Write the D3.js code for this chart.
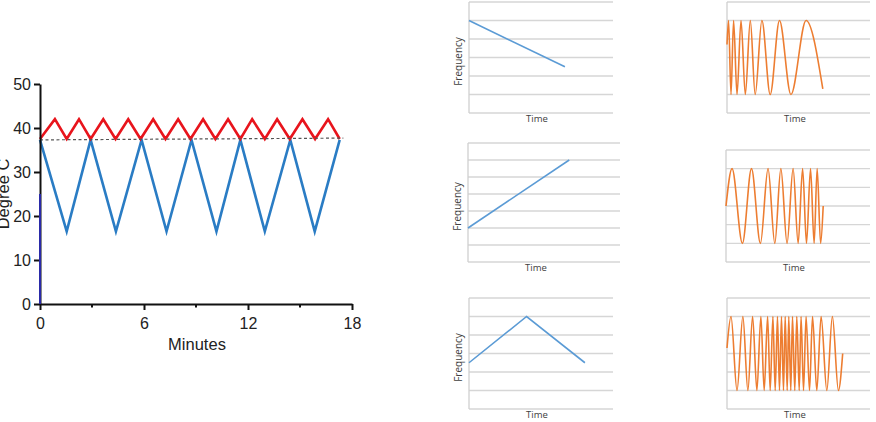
<!DOCTYPE html>
<html>
<head>
<meta charset="utf-8">
<script src="https://cdn.jsdelivr.net/npm/d3@7"></script>
<style>
  body { margin: 0; background: #fff; }
  svg { display: block; }
</style>
</head>
<body>
<div id="svganchor"></div>
<script>
let width = 876;
let height = 422;

// ---- left chart data (minutes, degree C) ----
let xTicks = [0, 6, 12, 18];
let xMinorTicks = [3, 9, 15];
let yTicks = [0, 10, 20, 30, 40, 50];

let redTimes = [0, 0.86, 1.54, 2.25, 2.92, 3.65, 4.36, 5.09, 5.80, 6.53, 7.24, 7.97, 8.68,
                9.41, 10.12, 10.85, 11.56, 12.24, 12.97, 13.68, 14.41, 15.14, 15.87, 16.62, 17.29];
let redTemps = [37.5, 42, 37.5, 42, 37.5, 42, 37.5, 42, 37.5, 42, 37.5, 42, 37.5,
                42, 37.5, 42, 37.5, 42, 37.5, 42, 37.5, 42, 37.5, 42, 37.5];

let blueTimes = [0, 1.54, 2.92, 4.38, 5.86, 7.30, 8.74, 10.18, 11.56, 12.97, 14.44, 15.85, 17.29];
let blueTemps = [37.3, 16.5, 37.3, 16.5, 37.3, 16.5, 37.3, 16.5, 37.3, 16.5, 37.3, 16.5, 37.3];

let baseTimes = [0, 17.5];
let baseTemps = [37.3, 37.7];

// ---- small panels data (time 0-100, frequency in gridline units) ----
// linear sweeps
let sweepDownT = [0, 66.6];
let sweepDownF = [5, 2.5];
let sweepUpT = [0, 66.6];
let sweepUpF = [2, 6];
let sweepTriT = [0, 40, 80.5];
let sweepTriF = [2.5, 5, 2.5];

// chirp waves: start, alternating extremes, end
let chirpDownT = [0, 1.1, 2.8, 4.6, 7.0, 9.8, 12.8, 16.3, 19.7, 24.4, 30.2, 36.7, 44.7, 55.3, 67.0];
let chirpDownV = [3.7, 5, 1, 5, 1, 5, 1, 5, 1, 5, 1, 5, 1, 5, 1.3];

let chirpUpT = [0, 4.2, 11.4, 17.7, 23.9, 29.2, 33.9, 38.1, 42.4, 46.6, 50.1, 53.2, 55.9, 58.7, 61.2, 63.3, 65.7, 67.5];
let chirpUpV = [3, 5, 1, 5, 1, 5, 1, 5, 1, 5, 1, 5, 1, 5, 1, 5, 1, 3];

let chirpTriT = [0, 2.8, 7.0, 11.1, 14.6, 17.9, 20.9, 23.7, 26.0, 28.4, 30.2, 32.1, 33.7, 35.3, 36.7,
                 38.1, 39.5, 40.7, 42.1, 43.2, 44.6, 45.8, 47.4, 48.8, 50.5, 51.8, 53.5, 55.3, 57.7,
                 59.8, 62.8, 65.8, 69.8, 73.7, 77.9, 80.9];
let chirpTriV = [3.3, 5, 1, 5, 1, 5, 1, 5, 1, 5, 1, 5, 1, 5, 1,
                 5, 1, 5, 1, 5, 1, 5, 1, 5, 1, 5, 1, 5, 1,
                 5, 1, 5, 1, 5, 1, 3];

function zip(ts, vs) {
    return ts.map(function (t, i) { return {t: t, v: vs[i]}; });
}

let svg = d3.select("#svganchor")
    .append("svg")
    .attr("width", width)
    .attr("height", height)
    .style("background", "#fff");

// ================= left chart =================
let xScale = d3.scaleLinear().domain([0, 18]).range([40, 352]);
let yScale = d3.scaleLinear().domain([0, 50]).range([304, 84]);

let line = d3.line()
    .x(function (d) { return xScale(d.t); })
    .y(function (d) { return yScale(d.v); });

svg.append("path")
    .datum(zip(blueTimes, blueTemps))
    .attr("fill", "none")
    .attr("stroke", "#2a7cc4")
    .attr("stroke-width", 2.6)
    .attr("stroke-linejoin", "miter")
    .attr("d", line);

svg.append("path")
    .datum(zip(redTimes, redTemps))
    .attr("fill", "none")
    .attr("stroke", "#e8141c")
    .attr("stroke-width", 2.6)
    .attr("d", line);

svg.append("path")
    .datum(zip(baseTimes, baseTemps))
    .attr("fill", "none")
    .attr("stroke", "#555")
    .attr("stroke-width", 1.2)
    .attr("stroke-dasharray", "3,2.5")
    .attr("d", line);

let xAxis = d3.axisBottom(xScale)
    .tickValues(xTicks)
    .tickFormat(d3.format("d"))
    .tickSize(6)
    .tickPadding(8)
    .tickSizeOuter(0);

let gx = svg.append("g")
    .attr("transform", "translate(0,304)")
    .call(xAxis);

// minor ticks
gx.selectAll(".minor")
    .data(xMinorTicks)
    .enter()
    .append("line")
    .attr("class", "minor")
    .attr("x1", function (d) { return xScale(d); })
    .attr("x2", function (d) { return xScale(d); })
    .attr("y1", 0)
    .attr("y2", 3.5)
    .attr("stroke", "#111")
    .attr("stroke-width", 2);

let yAxis = d3.axisLeft(yScale)
    .tickValues(yTicks)
    .tickSize(6)
    .tickPadding(3)
    .tickSizeOuter(0);

let gy = svg.append("g")
    .attr("transform", "translate(40,0)")
    .call(yAxis);

// coloured lower part of the y axis
svg.append("line")
    .attr("x1", 40).attr("x2", 40)
    .attr("y1", yScale(0)).attr("y2", yScale(25))
    .attr("stroke", "#2a2aa8")
    .attr("stroke-width", 2);

[gx, gy].forEach(function (g) {
    g.select(".domain").attr("stroke", "#111").attr("stroke-width", 2);
    g.selectAll(".tick line").attr("stroke", "#111").attr("stroke-width", 2);
    g.selectAll(".tick text")
        .attr("fill", "#222")
        .style("font-family", "'Liberation Sans', Arial, sans-serif")
        .style("font-size", "16px");
});

svg.append("text")
    .attr("x", 197)
    .attr("y", 350)
    .attr("text-anchor", "middle")
    .attr("fill", "#222")
    .style("font-family", "'Liberation Sans', Arial, sans-serif")
    .style("font-size", "16.5px")
    .text("Minutes");

svg.append("text")
    .attr("transform", "translate(9,194) rotate(-90)")
    .attr("text-anchor", "middle")
    .attr("fill", "#222")
    .style("font-family", "'Liberation Sans', Arial, sans-serif")
    .style("font-size", "16.5px")
    .text("Degree C");

// ================= small panels =================
let panels = [
    {left: 469, right: 613, top: 2, bottom: 113, n: 6, data: zip(sweepDownT, sweepDownF), color: "#5b9bd5", curve: d3.curveLinear, freq: true},
    {left: 727, right: 870, top: 2, bottom: 113, n: 6, data: zip(chirpDownT, chirpDownV), color: "#ed7d31", curve: d3.curveMonotoneX, freq: false},
    {left: 468, right: 620, top: 143, bottom: 262, n: 7, data: zip(sweepUpT, sweepUpF), color: "#5b9bd5", curve: d3.curveLinear, freq: true},
    {left: 726, right: 870, top: 150, bottom: 262, n: 6, data: zip(chirpUpT, chirpUpV), color: "#ed7d31", curve: d3.curveMonotoneX, freq: false},
    {left: 469, right: 613, top: 298, bottom: 409, n: 6, data: zip(sweepTriT, sweepTriF), color: "#5b9bd5", curve: d3.curveLinear, freq: true},
    {left: 727, right: 870, top: 298, bottom: 409, n: 6, data: zip(chirpTriT, chirpTriV), color: "#ed7d31", curve: d3.curveMonotoneX, freq: false}
];

panels.forEach(function (p) {
    let g = svg.append("g");
    let px = d3.scaleLinear().domain([0, 100]).range([p.left, p.right]);
    let py = d3.scaleLinear().domain([0, p.n]).range([p.bottom, p.top]);

    // gridlines
    g.selectAll(".grid")
        .data(d3.range(0, p.n + 1))
        .enter()
        .append("line")
        .attr("x1", p.left)
        .attr("x2", p.right)
        .attr("y1", function (d) { return py(d); })
        .attr("y2", function (d) { return py(d); })
        .attr("stroke", "#d6d6d6")
        .attr("stroke-width", 1.3);

    // left axis
    g.append("line")
        .attr("x1", p.left).attr("x2", p.left)
        .attr("y1", p.top).attr("y2", p.bottom)
        .attr("stroke", "#d0d0d0")
        .attr("stroke-width", 1.3);

    g.append("path")
        .datum(p.data)
        .attr("fill", "none")
        .attr("stroke", p.color)
        .attr("stroke-width", 1.6)
        .attr("d", d3.line()
            .curve(p.curve)
            .x(function (d) { return px(d.t); })
            .y(function (d) { return py(d.v); }));

    let midX = p.left + 68;
    g.append("text")
        .attr("x", midX)
        .attr("y", p.bottom + 9)
        .attr("text-anchor", "middle")
        .attr("fill", "#404040")
        .style("font-family", "'Open Sans', sans-serif")
        .style("font-size", "9.5px")
        .text("Time");

    if (p.freq) {
        g.append("text")
            .attr("transform", "translate(" + (p.left - 7) + "," + ((p.top + p.bottom) / 2 + 4) + ") rotate(-90)")
            .attr("text-anchor", "middle")
            .attr("fill", "#404040")
            .style("font-family", "'Open Sans', sans-serif")
            .style("font-size", "10px")
            .text("Frequency");
    }
});
</script>
</body>
</html>
